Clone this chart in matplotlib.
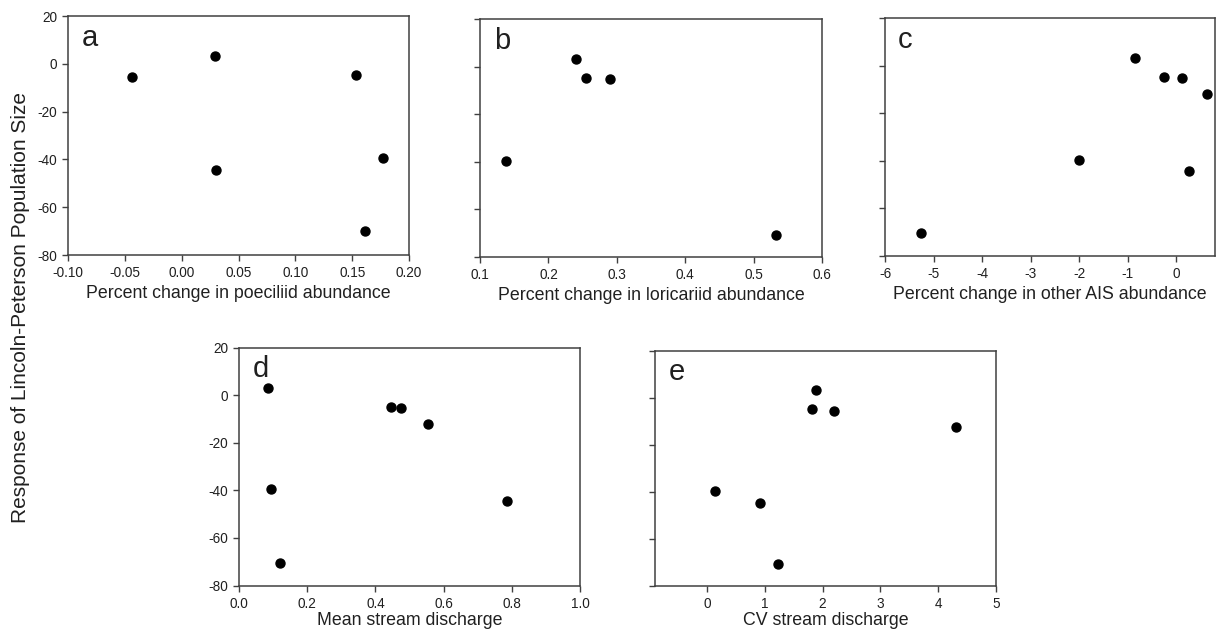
import numpy as np
import matplotlib
matplotlib.use("Agg")
import matplotlib.pyplot as plt

plt.rcParams['font.family'] = ['Liberation Sans', 'DejaVu Sans']

# response of Lincoln-Peterson population size (shared y)
a_x = [-0.044, 0.029, 0.030, 0.153, 0.177, 0.161]
a_y = [-5.4, 3.3, -44.3, -4.8, -39.3, -70.1]

b_x = [0.240, 0.255, 0.290, 0.138, 0.533]
b_y = [3.2, -5.0, -5.4, -39.6, -70.6]

c_x = [-0.84, -0.25, 0.12, 0.64, -2.0, 0.26, -5.26]
c_y = [3.4, -4.7, -5.4, -12.1, -39.5, -44.4, -70.3]

d_x = [0.085, 0.094, 0.120, 0.446, 0.475, 0.553, 0.786]
d_y = [3.2, -39.4, -70.5, -4.9, -5.5, -12.2, -44.5]

e_x = [1.88, 1.82, 2.19, 4.30, 0.13, 0.92, 1.23]
e_y = [3.4, -4.9, -5.5, -12.2, -39.6, -44.7, -70.7]

y_ticks = [-80, -60, -40, -20, 0, 20]

def setup(ax, xlim, xticks, xticklabels, xlabel, letter, ylabels, lpad=3.5):
	ax.set_xlim(*xlim)
	ax.set_ylim(-80, 20)
	ax.set_xticks(xticks)
	ax.set_xticklabels(xticklabels)
	ax.set_yticks(y_ticks)
	if ylabels:
		ax.set_yticklabels([str(v) for v in y_ticks])
	else:
		ax.set_yticklabels([])
	ax.tick_params(direction="out", length=4, width=1, labelsize=9.8,
		colors="#404040", labelcolor="#202020", pad=4)
	for s in ax.spines.values():
		s.set_color("#404040")
		s.set_linewidth(1.1)
	ax.set_xlabel(xlabel, fontsize=12.8, color="#202020", labelpad=lpad)
	ax.text(0.04, 0.875, letter, transform=ax.transAxes, fontsize=21, color="#202020")

def main():
	fig = plt.figure(figsize=(12.17, 6.32), dpi=100)

	ax_a = fig.add_axes([0.0559, 0.5965, 0.2802, 0.378])
	ax_a.scatter(a_x, a_y, s=42, color="black", zorder=3)
	setup(ax_a, (-0.10, 0.20), [-0.10, -0.05, 0.00, 0.05, 0.10, 0.15, 0.20],
		["-0.10", "-0.05", "0.00", "0.05", "0.10", "0.15", "0.20"],
		"Percent change in poeciliid abundance", "a", True)

	ax_b = fig.add_axes([0.3944, 0.5934, 0.281, 0.3766])
	ax_b.scatter(b_x, b_y, s=42, color="black", zorder=3)
	setup(ax_b, (0.1, 0.6), [0.1, 0.2, 0.3, 0.4, 0.5, 0.6],
		["0.1", "0.2", "0.3", "0.4", "0.5", "0.6"],
		"Percent change in loricariid abundance", "b", False)

	ax_c = fig.add_axes([0.7272, 0.5949, 0.271, 0.3766])
	ax_c.scatter(c_x, c_y, s=42, color="black", zorder=3)
	setup(ax_c, (-6, 0.8), [-6, -5, -4, -3, -2, -1, 0],
		["-6", "-5", "-4", "-3", "-2", "-1", "0"],
		"Percent change in other AIS abundance", "c", False)

	ax_d = fig.add_axes([0.1964, 0.0735, 0.2802, 0.3765])
	ax_d.scatter(d_x, d_y, s=42, color="black", zorder=3)
	setup(ax_d, (0.0, 1.0), [0.0, 0.2, 0.4, 0.6, 0.8, 1.0],
		["0.0", "0.2", "0.4", "0.6", "0.8", "1.0"],
		"Mean stream discharge", "d", True, lpad=1)

	ax_e = fig.add_axes([0.5382, 0.0735, 0.2802, 0.371])
	ax_e.scatter(e_x, e_y, s=42, color="black", zorder=3)
	setup(ax_e, (-0.9, 5), [0, 1, 2, 3, 4, 5],
		["0", "1", "2", "3", "4", "5"],
		"CV stream discharge", "e", False, lpad=1)

	fig.text(0.0165, 0.5127, "Response of Lincoln-Peterson Population Size",
		rotation=90, ha="center", va="center", fontsize=15, color="#202020")

	fig.savefig("out.png", dpi=100)

if __name__ == '__main__':
	main()
